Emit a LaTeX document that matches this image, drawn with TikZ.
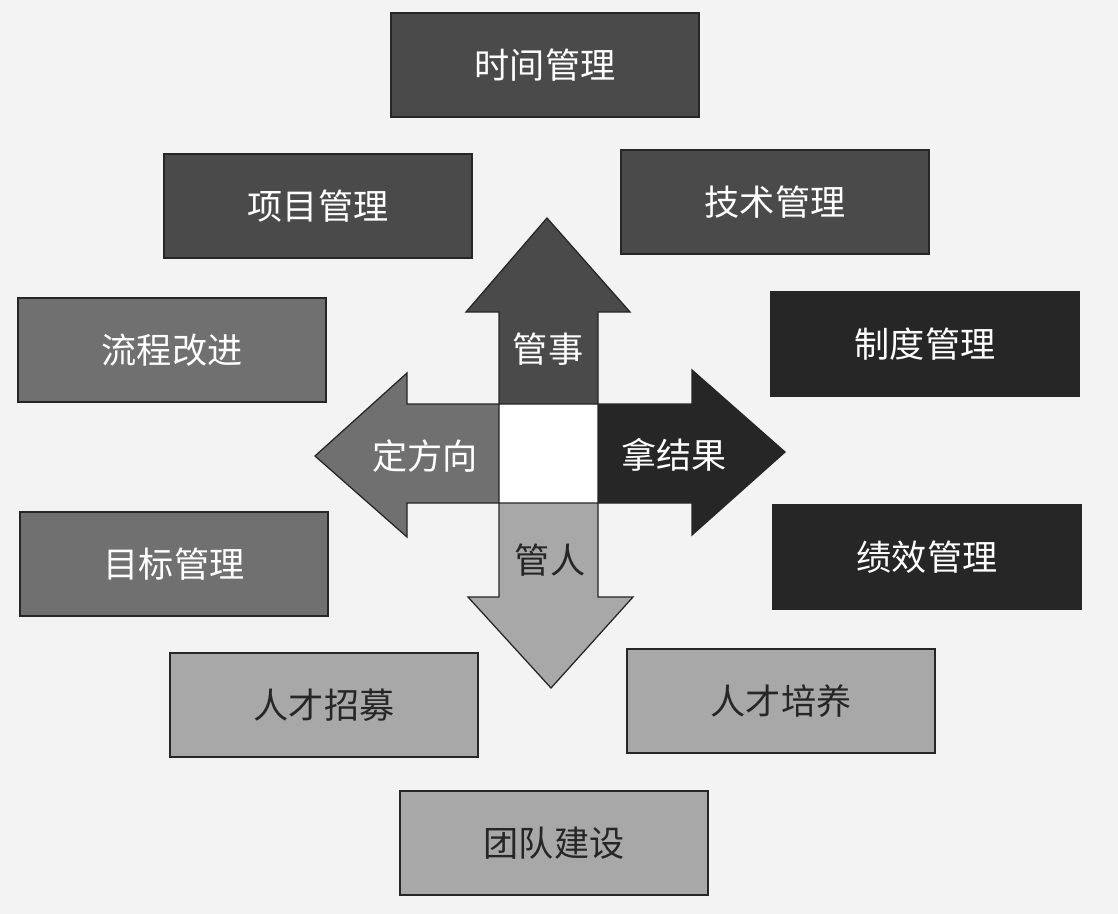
\documentclass[tikz,border=0pt]{standalone}
\usepackage{fontspec}
\newfontfamily\cjk{Noto Sans CJK SC}
\definecolor{bgpaper}{RGB}{243,243,243}
\definecolor{gdark}{RGB}{74,74,74}
\definecolor{gmid}{RGB}{112,112,112}
\definecolor{gblack}{RGB}{38,38,38}
\definecolor{glight}{RGB}{168,168,168}
\begin{document}
\begin{tikzpicture}[x=0.025cm, y=-0.025cm, line join=miter,
 font=\cjk\fontsize{25}{30}\selectfont,
 box/.style={draw=black!85, line width=0.9pt, minimum width=7.7cm, minimum height=2.6cm, inner sep=0pt},
 darkbox/.style={box, fill=gdark, text=white},
 midbox/.style={box, fill=gmid, text=white},
 blackbox/.style={box, fill=gblack, text=white},
 lightbox/.style={box, fill=glight, text=black!85},
 arrowline/.style={draw=black!85, line width=0.9pt}]
 \def\xl{499} \def\xr{598} \def\yt{404} \def\yb{503}
 \fill[bgpaper] (0,0) rectangle (1118,914);
 \useasboundingbox (0,0) rectangle (1118,914);
 % boxes
 \node[darkbox] (time) at (545,65) {时间管理};
 \node[darkbox] (proj) at (318,206) {项目管理};
 \node[darkbox] (tech) at (775,202) {技术管理};
 \node[midbox] (flow) at (172,350) {流程改进};
 \node[blackbox] (rule) at (925,344) {制度管理};
 \node[midbox] (goal) at (174,564) {目标管理};
 \node[blackbox] (perf) at (927,557) {绩效管理};
 \node[lightbox] (hire) at (324,705) {人才招募};
 \node[lightbox] (train) at (781,701) {人才培养};
 \node[lightbox] (team) at (554,843) {团队建设};
 % four arrows
 \fill[white] (\xl,\yt) rectangle (\xr,\yb);
 \filldraw[arrowline, fill=gdark] (\xl,\yt) -- (\xl,312) -- (466,312) -- (547,218) -- (630,312) -- (\xr,312) -- (\xr,\yt) -- cycle;
 \filldraw[arrowline, fill=gmid] (\xl,\yt) -- (407,\yt) -- (407,373) -- (315,456) -- (407,537) -- (407,\yb) -- (\xl,\yb) -- cycle;
 \filldraw[arrowline, fill=gblack] (\xr,\yt) -- (692,\yt) -- (692,370) -- (785,452) -- (692,535) -- (692,\yb) -- (\xr,\yb) -- cycle;
 \filldraw[arrowline, fill=glight] (\xl,\yb) -- (\xl,597) -- (468,597) -- (551,688) -- (633,597) -- (\xr,597) -- (\xr,\yb) -- cycle;
 \node[text=white] (things) at (548,349) {管事};
 \node[text=white] (dir) at (425,456) {定方向};
 \node[text=white] (result) at (674,455) {拿结果};
 \node[text=black!85] (people) at (550,560) {管人};
\end{tikzpicture}
\end{document}
